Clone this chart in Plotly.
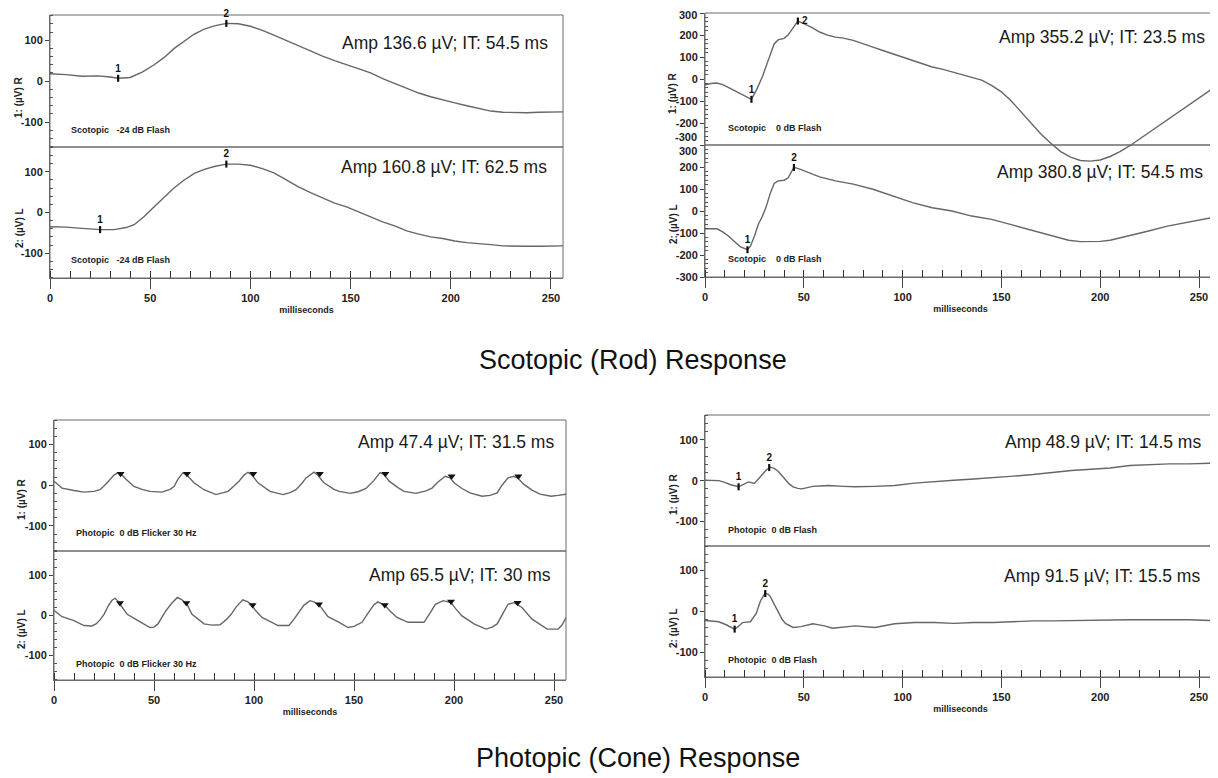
import plotly.graph_objects as go

# ---------------- DATA ----------------
# Panel 1: Scotopic -24 dB Flash
p1_t_r = [0, 8, 16, 24, 30, 34, 40, 46, 52, 57, 62, 67, 72, 77, 82, 88, 94, 100, 106, 112, 118, 124, 130, 136,
          142, 148, 154, 160, 166, 172, 178, 184, 190, 196, 202, 208, 214, 220, 226, 232, 238, 244, 250, 256]
p1_r = [18, 16, 12, 13, 10, 7, 9, 22, 40, 58, 80, 98, 115, 127, 135, 141, 140, 134, 124, 112, 99, 87, 74, 61,
        50, 40, 30, 20, 6, -6, -17, -29, -38, -46, -53, -60, -67, -73, -76, -77, -77, -76, -75, -75]
p1_t_l = [0, 8, 16, 25, 32, 38, 42, 47, 52, 57, 62, 67, 72, 77, 82, 88, 94, 100, 106, 112, 118, 124, 130, 136,
          142, 148, 154, 160, 166, 172, 178, 184, 190, 196, 202, 208, 214, 220, 226, 232, 238, 244, 250, 256]
p1_l = [-35, -36, -39, -42, -42, -37, -30, -10, 14, 38, 61, 80, 96, 106, 113, 119, 119, 116, 108, 97, 80, 63, 49, 35,
        23, 14, 1, -11, -23, -33, -45, -53, -60, -64, -70, -74, -76, -79, -82, -83, -83, -83, -82, -82]
p1_mark_r_t = [34, 88]
p1_mark_r_v = [7, 141]
p1_mark_l_t = [25, 88]
p1_mark_l_v = [-42, 119]

# Panel 2: Scotopic 0 dB Flash
p2_t_r = [0, 3, 6, 9, 12, 15, 18, 21, 23.5, 26, 29, 32, 35, 37, 40, 42, 44, 47, 50, 54, 58, 62, 66, 70, 75, 80,
          85, 90, 95, 100, 105, 110, 115, 120, 125, 130, 135, 140, 145, 150, 155, 160, 165, 170, 175, 180, 185,
          190, 195, 200, 205, 210, 215, 220, 225, 230, 235, 240, 245, 250, 256, 259]
p2_r = [-26, -20, -18, -25, -39, -53, -67, -80, -92, -50, 9, 85, 160, 178, 185, 200, 225, 264, 252, 235, 214, 200,
        191, 186, 176, 162, 145, 130, 115, 100, 85, 70, 55, 45, 32, 20, 9, -5, -29, -58, -100, -150, -205, -250,
        -292, -330, -355, -370, -373, -368, -352, -330, -303, -272, -240, -208, -178, -148, -118, -88, -48, -30]
p2_t_l = [0, 3, 6, 9, 12, 15, 18, 21.5, 23, 25, 27, 29, 31, 33, 35, 37, 40, 42, 45, 48, 52, 58, 66, 75, 85, 95,
          105, 115, 125, 135, 145, 155, 165, 175, 184, 190, 195, 200, 205, 214, 224, 234, 244, 256, 259]
p2_l = [-81, -80, -81, -95, -115, -140, -163, -176, -160, -115, -60, -25, 20, 80, 125, 137, 140, 150, 198, 190,
        176, 155, 137, 122, 99, 69, 38, 15, 0, -23, -38, -62, -86, -108, -133, -139, -140, -138, -133, -115,
        -92, -69, -53, -31, -26]
p2_mark_r_t = [23.5, 47]
p2_mark_r_v = [-92, 264]
p2_mark_l_t = [21.5, 45]
p2_mark_l_v = [-176, 198]

# Panel 3: Photopic 0 dB Flicker 30 Hz
p3_t_r = [0, 4, 10, 15, 20, 23, 26, 28, 30, 32, 34, 36, 40, 44, 48, 54, 58, 60, 62, 64.5, 67, 70, 75, 81, 87, 90,
          92.5, 95, 97, 99, 102, 108, 114.6, 118, 121, 124, 126, 130, 132, 135, 140, 142.6, 148, 152, 156, 160,
          163, 165, 167.6, 172, 175, 181, 186, 189, 192, 195.6, 198, 200, 204, 208, 214, 218, 221.6, 224, 227,
          230, 232, 235, 239, 243, 248.6, 252, 256]
p3_r = [10, -7, -13, -17, -15, -11, 3, 14, 25, 31, 25, 15, -3, -10, -15, -17, -10, -3, 15, 31, 22, 6, -11, -23,
        -15, -2, 10, 25, 32, 25, 6, -15, -23, -18, -11, 5, 18, 32, 24, 6, -10, -15, -20, -16, -8, 12, 31, 26,
        10, -6, -15, -20, -14, -7, 8, 22, 18, 6, -8, -19, -27, -25, -19, 0, 18, 22, 17, 2, -12, -22, -27, -25,
        -22]
p3_t_l = [0, 4, 10, 15, 19, 21, 23, 25, 27, 29, 30.5, 32, 33, 35, 36.6, 42, 48, 50, 52, 54, 56, 59, 61.7, 64,
          66.5, 69, 75, 79, 83, 86, 88.6, 91, 94.4, 97, 99, 101, 104, 112, 117.5, 120, 123, 125, 128, 130, 133,
          137, 142.6, 147, 150, 154, 157, 160, 162, 165.7, 168, 171.5, 177, 185, 188, 190.7, 194.6, 198.5, 201,
          204, 210, 216, 219, 221.6, 224, 227, 230, 234, 239, 246.6, 252, 254, 256]
p3_l = [12, -4, -14, -26, -27, -22, -12, 2, 22, 37, 42, 35, 27, 12, 2, -14, -31, -30, -22, -5, 11, 30, 44, 38,
        27, 2, -22, -25, -24, -12, 2, 20, 38, 33, 23, 10, -6, -26, -26, -10, 11, 25, 36, 33, 23, -4, -18, -31,
        -28, -18, 5, 26, 33, 23, 10, -6, -18, -18, 5, 27, 36, 31, 15, -2, -22, -35, -30, -22, 0, 27, 31, 19,
        -10, -35, -35, -25, -6]
p3_tri_r_t = [33.3, 66.5, 99.6, 132.9, 165.7, 198.8, 232.2]
p3_tri_r_v = [28, 28, 28, 28, 28, 22, 22]
p3_tri_l_t = [33.0, 66.2, 99.3, 132.5, 165.4, 198.5, 231.8]
p3_tri_l_v = [30, 30, 25, 27, 25, 34, 31]

# Panel 4: Photopic 0 dB Flash
p4_t_r = [0, 7, 10, 13, 17, 20, 22, 25, 27, 29, 31, 33, 35, 37, 39, 40.7, 42.6, 44.6, 47, 49, 52, 54.6, 58, 62.5,
          70, 76, 86, 96, 106, 116, 126, 136, 146, 156, 166, 176, 185.5, 195.4, 205, 215, 225, 235, 245, 256, 259]
p4_r = [1, 0, -4, -10, -15, -8, -3, -7, 3, 15, 26, 33, 30, 23, 12, 2, -8, -15, -19, -20, -17, -14, -13, -12,
        -14, -15, -14, -12, -6, -2, 1, 4, 7, 11, 15, 20, 25, 28, 31, 37, 39, 41, 41, 43, 43]
p4_t_l = [0, 7, 11, 15, 17, 19, 21, 23, 26, 28, 30.4, 32, 33, 35, 37, 39, 40.7, 44.6, 48.6, 52, 54.6, 57, 60.5,
          64.5, 70, 76, 86, 96, 106, 116, 126, 136, 146, 156, 166, 176, 185.5, 195.4, 205, 215, 225, 235, 245,
          256, 259]
p4_l = [-22, -25, -33, -43, -36, -27, -26, -25, -4, 25, 45, 42, 37, 18, -4, -19, -29, -39, -37, -32, -30, -32,
        -35, -41, -38, -35, -39, -30, -27, -27, -29, -27, -27, -25, -23, -23, -22, -22, -20, -20, -20, -20, -20,
        -22, -22]
p4_mark_r_t = [17, 32.5]
p4_mark_r_v = [-15, 32]
p4_mark_l_t = [15, 30.5]
p4_mark_l_v = [-43, 44]

amp_texts = [
    ["Amp 136.6 µV; IT: 54.5 ms", "Amp 160.8 µV; IT: 62.5 ms"],
    ["Amp 355.2 µV; IT: 23.5 ms", "Amp 380.8 µV; IT: 54.5 ms"],
    ["Amp 47.4 µV; IT: 31.5 ms", "Amp 65.5 µV; IT: 30 ms"],
    ["Amp 48.9 µV; IT: 14.5 ms", "Amp 91.5 µV; IT: 15.5 ms"],
]
stim_labels = ["Scotopic   -24 dB Flash", "Scotopic    0 dB Flash",
               "Photopic  0 dB Flicker 30 Hz", "Photopic  0 dB Flash"]
channel_labels = ["1: (µV) R", "2: (µV) L"]
x_ticks = [0, 50, 100, 150, 200, 250]
x_title = "milliseconds"
section_titles = ["Scotopic (Rod) Response", "Photopic (Cone) Response"]

# ---------------- LAYOUT GEOMETRY (reference pixels) ----------------
# The page body has an 8 px margin, so the figure starts 8 px in from the window corner.
OFF = 8
W, H = 1218 - OFF, 778 - OFF
def px(x):
    return (x - OFF) / W
def py(y):
    return 1 - (y - OFF) / H

TC = "top center"
panels = [
    dict(x0=50, x1=563, xmax=256, yt=15, ys=147, yb=278, lo=-161, hi=161, ytitle_x=19, ytc=(97, 228),
         amp=((550, 43), (549, 167)), stim=((69, 130), (69, 260)), mpos=([TC, TC], [TC, TC])),
    dict(x0=705, x1=1216, xmax=258.6, yt=13, ys=145, yb=277, lo=-300, hi=300, ytitle_x=673, ytc=(93, 224),
         amp=((1207, 37), (1205, 172)), stim=((726, 128), (726, 259)), mpos=([TC, "middle right"], [TC, TC])),
    dict(x0=54, x1=566, xmax=256, yt=420, ys=551, yb=680, lo=-162, hi=160, ytitle_x=21, ytc=(499, 629),
         amp=((556, 442), (553, 575)), stim=((74, 533), (74, 664)), mpos=(None, None)),
    dict(x0=705, x1=1216, xmax=258.6, yt=415, ys=546, yb=677, lo=-160, hi=160, ytitle_x=673, ytc=(494, 628),
         amp=((1203, 442), (1202, 576)), stim=((726, 530), (726, 660)), mpos=([TC, TC], [TC, TC])),
]

series = [
    ((p1_t_r, p1_r), (p1_t_l, p1_l), "num", ((p1_mark_r_t, p1_mark_r_v), (p1_mark_l_t, p1_mark_l_v))),
    ((p2_t_r, p2_r), (p2_t_l, p2_l), "num", ((p2_mark_r_t, p2_mark_r_v), (p2_mark_l_t, p2_mark_l_v))),
    ((p3_t_r, p3_r), (p3_t_l, p3_l), "tri", ((p3_tri_r_t, p3_tri_r_v), (p3_tri_l_t, p3_tri_l_v))),
    ((p4_t_r, p4_r), (p4_t_l, p4_l), "num", ((p4_mark_r_t, p4_mark_r_v), (p4_mark_l_t, p4_mark_l_v))),
]

NARROW = "Liberation Sans Narrow, Arial Narrow, Liberation Sans, Arial, sans-serif"
SANS = "Liberation Sans, Arial, sans-serif"
LINE_C = "#666666"
AX_C = "#6a6a6a"
TICK_FONT = dict(family=NARROW, size=11, color="#222", weight="bold")

fig = go.Figure()
layout = dict(width=W, height=H, margin=dict(l=0, r=0, t=0, b=0, autoexpand=False), paper_bgcolor="white",
              plot_bgcolor="rgba(0,0,0,0)", showlegend=False)
shapes = []
annotations = []

for i, (p, s) in enumerate(zip(panels, series)):
    xa = f"xaxis{i + 1}" if i else "xaxis"
    xref = f"x{i + 1}" if i else "x"
    yb_idx, yt_idx = 2 * i + 1, 2 * i + 2
    yb_name = f"yaxis{yb_idx}" if yb_idx > 1 else "yaxis"
    yb_ref = f"y{yb_idx}" if yb_idx > 1 else "y"
    yt_name, yt_ref = f"yaxis{yt_idx}", f"y{yt_idx}"

    lo, hi = p["lo"], p["hi"]
    majors = [v for v in range(-300, 301, 100) if lo <= v <= hi]
    minors = [v for v in range(-300, 301, 20) if lo <= v <= hi and v % 100 != 0]
    # extreme labels that sit on the frame edges are drawn as annotations
    crowded = abs(lo) >= 300
    top_text = [("" if (crowded and v in (lo, hi)) else str(v)) for v in majors]
    bot_text = [("" if (crowded and v == hi) else str(v)) for v in majors]

    layout[xa] = dict(domain=[px(p["x0"]), px(p["x1"])], range=[0, p["xmax"]], anchor=yb_ref,
                      automargin=False,
                      tickmode="array", tickvals=x_ticks, ticks="outside", ticklen=10, tickwidth=1,
                      tickcolor="#444", showline=True, linecolor=AX_C, linewidth=1, showgrid=False,
                      zeroline=False, tickfont=TICK_FONT,
                      minor=dict(tickmode="linear", dtick=10, tick0=0, ticks="inside", ticklen=7,
                                 tickwidth=1, tickcolor="#333", showgrid=False),
                      title=dict(text=x_title, standoff=3,
                                 font=dict(family=NARROW, size=9, color="#222", weight="bold")))
    common_y = dict(anchor=xref, automargin=False, tickmode="array", tickvals=majors, ticks="outside",
                    ticklen=4, tickcolor="#444", showline=True, linecolor=AX_C, linewidth=1, showgrid=False,
                    zeroline=False, tickfont=TICK_FONT,
                    minor=dict(tickmode="array", tickvals=minors, ticks="inside", ticklen=3, tickwidth=1,
                               tickcolor="#555", showgrid=False))
    layout[yb_name] = dict(domain=[py(p["yb"]), py(p["ys"])], range=[lo, hi], ticktext=bot_text, **common_y)
    # top subplot axis spans the whole panel so its trace may dip below the separator
    frac = (p["ys"] - p["yt"]) / (p["yb"] - p["yt"])
    span = (hi - lo) / frac
    layout[yt_name] = dict(domain=[py(p["yb"]), py(p["yt"])], range=[hi - span, hi + 0.5], ticktext=top_text,
                           **common_y)
    if crowded:
        for txt, yy in ((str(hi), p["yt"] + 2), (str(lo), p["ys"] - 8), (str(hi), p["ys"] + 6)):
            annotations.append(dict(text=txt, xref="paper", yref="paper", x=px(p["x0"] - 6),
                                    y=py(yy), xanchor="right", yanchor="middle", showarrow=False,
                                    font=TICK_FONT))

    (tr, vr), (tl, vl), mkind, marks = s
    fig.add_trace(go.Scatter(x=tr, y=vr, xaxis=xref, yaxis=yt_ref, mode="lines",
                             line=dict(color=LINE_C, width=1.4), hoverinfo="skip"))
    fig.add_trace(go.Scatter(x=tl, y=vl, xaxis=xref, yaxis=yb_ref, mode="lines",
                             line=dict(color=LINE_C, width=1.4), hoverinfo="skip"))
    for j, ((mt, mv), yref) in enumerate(zip(marks, (yt_ref, yb_ref))):
        if mkind == "num":
            fig.add_trace(go.Scatter(x=mt, y=mv, xaxis=xref, yaxis=yref, mode="markers+text",
                                     text=[str(k + 1) for k in range(len(mt))], textposition=p["mpos"][j],
                                     textfont=dict(family=NARROW, size=10, color="#111", weight="bold"),
                                     marker=dict(symbol="line-ns", size=5,
                                                 line=dict(width=2.2, color="#111")),
                                     cliponaxis=False, hoverinfo="skip"))
        else:
            fig.add_trace(go.Scatter(x=mt, y=mv, xaxis=xref, yaxis=yref, mode="markers",
                                     marker=dict(symbol="triangle-down", size=7, color="#111"),
                                     cliponaxis=False, hoverinfo="skip"))

    # frame and separator
    shapes.append(dict(type="rect", xref="paper", yref="paper", x0=px(p["x0"]), x1=min(px(p["x1"]), 0.9995),
                       y0=py(p["yb"]), y1=py(p["yt"]), line=dict(color=AX_C, width=1), layer="below"))
    shapes.append(dict(type="line", xref="paper", yref="paper", x0=px(p["x0"]), x1=min(px(p["x1"]), 0.9995),
                       y0=py(p["ys"]), y1=py(p["ys"]), line=dict(color=AX_C, width=1.3), layer="below"))

    for k in range(2):
        ax_, ay_ = p["amp"][k]
        annotations.append(dict(text=amp_texts[i][k], xref="paper", yref="paper", x=px(ax_), y=py(ay_),
                                xanchor="right", yanchor="middle", showarrow=False,
                                font=dict(family=SANS, size=17.5, color="#1a1a1a")))
        sx, sy = p["stim"][k]
        annotations.append(dict(text=stim_labels[i], xref="paper", yref="paper", x=px(sx), y=py(sy),
                                xanchor="left", yanchor="middle", showarrow=False,
                                font=dict(family=NARROW, size=9, color="#222", weight="bold")))
        annotations.append(dict(text=channel_labels[k], xref="paper", yref="paper",
                                x=px(p["ytitle_x"]), y=py(p["ytc"][k]), textangle=-90,
                                xanchor="center", yanchor="middle", showarrow=False,
                                font=dict(family=NARROW, size=10, color="#222", weight="bold")))

annotations.append(dict(text=section_titles[0], xref="paper", yref="paper", x=px(633), y=py(360),
                        xanchor="center", yanchor="middle", showarrow=False,
                        font=dict(family=SANS, size=27, color="#111")))
annotations.append(dict(text=section_titles[1], xref="paper", yref="paper", x=px(638), y=py(758),
                        xanchor="center", yanchor="middle", showarrow=False,
                        font=dict(family=SANS, size=27, color="#111")))

layout["shapes"] = shapes
layout["annotations"] = annotations
fig.update_layout(**layout)
fig.write_html("out.html")
